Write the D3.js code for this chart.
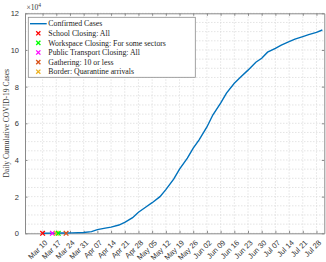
<!DOCTYPE html>
<html>
<head>
<meta charset="utf-8">
<script src="https://cdn.jsdelivr.net/npm/d3@7"></script>
<style>
  body { margin: 0; background: #fff; }
  svg { display: block; font-family: "Liberation Serif", "DejaVu Serif", serif; }
  .grid line { stroke: #d9d9d9; stroke-dasharray: 1.5,1.5; stroke-width: 0.7; }
  .axis path, .axis line { stroke: #8a8a8a; }
  .axis text { fill: #333; font-size: 7.5px; }
</style>
</head>
<body>
<svg id="chart"></svg>
<script>
// cumulative confirmed cases
var caseDates = ["2020-03-10", "2020-03-15", "2020-03-20", "2020-03-25", "2020-03-31",
    "2020-04-04", "2020-04-07", "2020-04-11", "2020-04-14", "2020-04-18", "2020-04-21",
    "2020-04-25", "2020-04-28", "2020-05-02", "2020-05-05", "2020-05-09", "2020-05-12",
    "2020-05-16", "2020-05-19", "2020-05-23", "2020-05-26", "2020-05-29", "2020-06-02",
    "2020-06-05", "2020-06-09", "2020-06-12", "2020-06-16", "2020-06-19", "2020-06-23",
    "2020-06-27", "2020-06-30", "2020-07-03", "2020-07-07", "2020-07-10", "2020-07-14",
    "2020-07-17", "2020-07-21", "2020-07-24", "2020-07-28", "2020-07-31"];
var caseValues = [30, 80, 150, 250, 400,
    900, 2000, 2800, 3400, 4500, 6000,
    8500, 11500, 14500, 16700, 20000, 23800,
    29500, 35000, 41000, 46500, 51000, 58000,
    64500, 71000, 76500, 81800, 85000, 89000,
    93300, 95500, 98800, 100900, 102700, 104500,
    105900, 107300, 108400, 109600, 110900];

// policy events
var eventNames = ["School Closing: All", "Workspace Closing: For some sectors",
    "Public Transport Closing: All", "Gathering: 10 or less", "Border: Quarantine arrivals"];
var eventDates = ["2020-03-10", "2020-03-18", "2020-03-15", "2020-03-22", "2020-03-17"];
var eventColors = ["#ff0000", "#00ff00", "#ff00ff", "#d95319", "#edb120"];
var eventDrawOrder = [0, 2, 4, 1, 3];

var yTicks = [0, 20000, 40000, 60000, 80000, 100000, 120000];

var W = 326, H = 262;
var margin = { top: 13.3, right: 1.7, bottom: 28.7, left: 25 };
var width = W - margin.left - margin.right;
var height = H - margin.top - margin.bottom;

var parseDate = d3.timeParse("%Y-%m-%d");
var fmt = d3.timeFormat("%b %d");

var caseData = caseDates.map(function (d, i) {
    return { date: parseDate(d), value: caseValues[i] };
});

var xScale = d3.scaleTime()
    .domain([parseDate("2020-03-01"), parseDate("2020-08-01")])
    .range([0, width]);
var yScale = d3.scaleLinear()
    .domain([0, 120000])
    .range([height, 0]);

var xTicks = d3.timeDay.range(parseDate("2020-03-10"), parseDate("2020-07-29"), 7);
var yMinor = d3.range(0, 120001, 5000);

var svg = d3.select("#chart").attr("width", W).attr("height", H);
var g = svg.append("g")
    .attr("transform", "translate(" + margin.left + "," + margin.top + ")");

// grid
var grid = g.append("g").attr("class", "grid");
grid.selectAll(".gx").data(xTicks).enter().append("line")
    .attr("x1", function (d) { return xScale(d); })
    .attr("x2", function (d) { return xScale(d); })
    .attr("y1", 0).attr("y2", height);
grid.selectAll(".gy").data(yMinor).enter().append("line")
    .attr("y1", function (d) { return yScale(d); })
    .attr("y2", function (d) { return yScale(d); })
    .attr("x1", 0).attr("x2", width);

// axes (inward ticks on all four sides)
g.append("g").attr("class", "axis")
    .attr("transform", "translate(0," + height + ")")
    .call(d3.axisBottom(xScale).tickValues(xTicks).tickSizeInner(-2.5).tickSizeOuter(0).tickFormat(fmt))
    .selectAll("text")
    .style("text-anchor", "end")
    .attr("dx", "-0.2em")
    .attr("dy", "0.7em")
    .attr("transform", "translate(0,3) rotate(-45)");

g.append("g").attr("class", "axis")
    .call(d3.axisTop(xScale).tickValues(xTicks).tickSizeInner(-2.5).tickSizeOuter(0).tickFormat(""));

g.append("g").attr("class", "axis")
    .call(d3.axisLeft(yScale).tickValues(yTicks).tickSizeInner(-2.5).tickSizeOuter(0).tickPadding(6)
        .tickFormat(function (d) { return d / 10000; }));

g.append("g").attr("class", "axis")
    .attr("transform", "translate(" + width + ",0)")
    .call(d3.axisRight(yScale).tickValues(yTicks).tickSizeInner(-2.5).tickSizeOuter(0).tickFormat(""));

// exponent label
var expo = svg.append("text")
    .attr("x", margin.left + 1.5)
    .attr("y", 9.5)
    .attr("fill", "#333")
    .style("font-size", "7.5px");
expo.append("tspan").text("\u00d710");
expo.append("tspan").attr("dy", -3).style("font-size", "5.5px").text("4");

// y label
svg.append("text")
    .attr("transform", "translate(9," + (margin.top + height / 2) + ") rotate(-90)")
    .attr("text-anchor", "middle")
    .attr("fill", "#333")
    .style("font-size", "7.5px")
    .text("Daily Cumulative COVID-19 Cases");

// line
var line = d3.line()
    .x(function (d) { return xScale(d.date); })
    .y(function (d) { return yScale(d.value); });
g.append("path")
    .datum(caseData)
    .attr("fill", "none")
    .attr("stroke", "#0072bd")
    .attr("stroke-width", 1.4)
    .attr("d", line);

// event markers
function cross(sel, s) {
    sel.append("path")
        .attr("d", "M" + (-s) + "," + (-s) + "L" + s + "," + s + "M" + (-s) + "," + s + "L" + s + "," + (-s));
}
eventDrawOrder.forEach(function (i) {
    var m = g.append("g")
        .attr("transform", "translate(" + xScale(parseDate(eventDates[i])) + "," + yScale(0) + ")")
        .attr("stroke", eventColors[i])
        .attr("stroke-width", 1.3)
        .attr("fill", "none");
    cross(m, 2.3);
});

// legend
var leg = g.append("g").attr("transform", "translate(3.3,4)");
leg.append("rect")
    .attr("width", 167).attr("height", 60)
    .attr("fill", "#fff").attr("stroke", "#8a8a8a").attr("stroke-width", 0.8);
var rowY = function (i) { return 6.4 + i * 9.6; };
leg.append("line")
    .attr("x1", 1.7).attr("x2", 18.4)
    .attr("y1", rowY(0)).attr("y2", rowY(0))
    .attr("stroke", "#0072bd").attr("stroke-width", 1.4);
leg.append("text")
    .attr("x", 20).attr("y", rowY(0)).attr("dy", "0.35em")
    .attr("fill", "#222").style("font-size", "7.8px")
    .text("Confirmed Cases");
eventNames.forEach(function (name, i) {
    var m = leg.append("g")
        .attr("transform", "translate(10," + rowY(i + 1) + ")")
        .attr("stroke", eventColors[i]).attr("stroke-width", 1.3).attr("fill", "none");
    cross(m, 2.1);
    leg.append("text")
        .attr("x", 20).attr("y", rowY(i + 1)).attr("dy", "0.35em")
        .attr("fill", "#222").style("font-size", "7.8px")
        .text(name);
});
</script>
</body>
</html>
